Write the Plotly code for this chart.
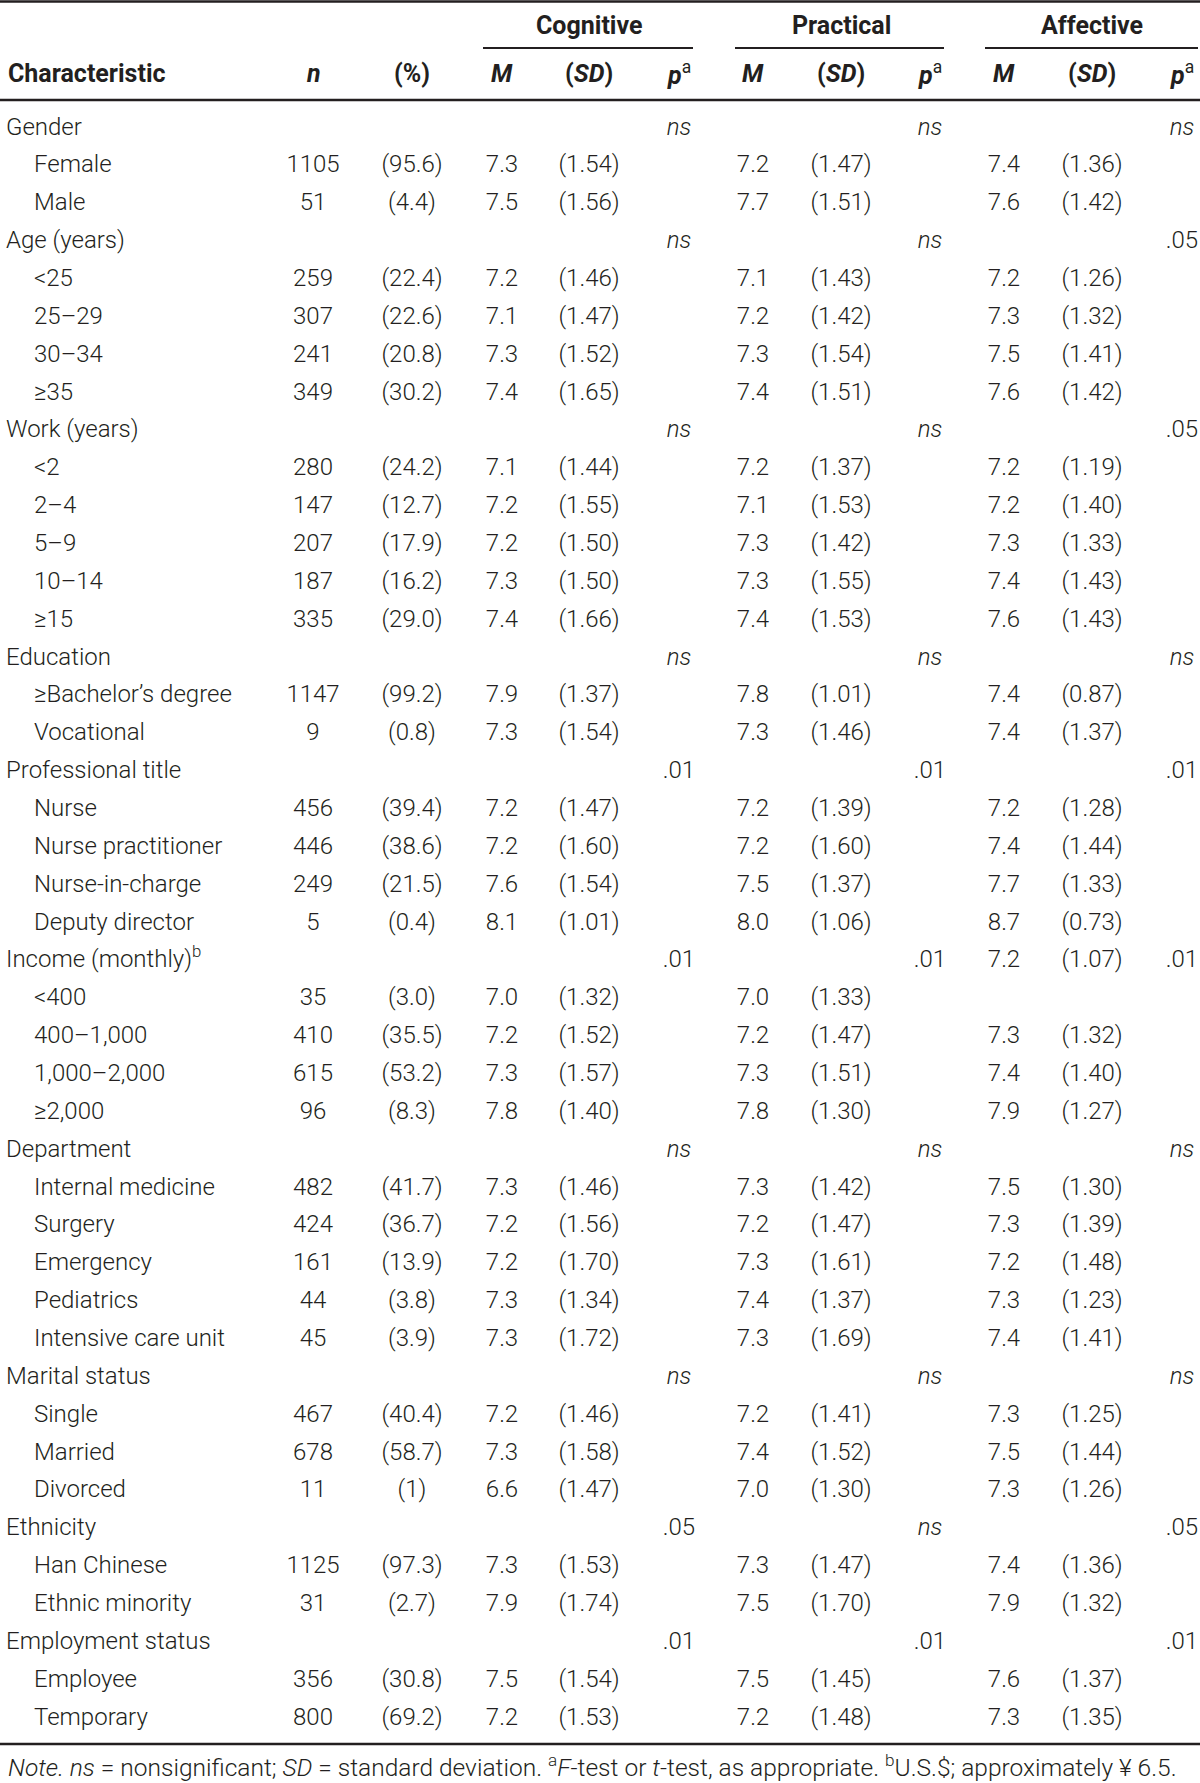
import plotly.graph_objects as go

# ---------------- data ----------------
labels = [
    "Gender", "Female", "Male",
    "Age (years)", "<25", "25–29", "30–34", "≥35",
    "Work (years)", "<2", "2–4", "5–9", "10–14", "≥15",
    "Education", "≥Bachelor’s degree", "Vocational",
    "Professional title", "Nurse", "Nurse practitioner", "Nurse-in-charge", "Deputy director",
    "Income (monthly)<sup>b</sup>", "<400", "400–1,000", "1,000–2,000", "≥2,000",
    "Department", "Internal medicine", "Surgery", "Emergency", "Pediatrics", "Intensive care unit",
    "Marital status", "Single", "Married", "Divorced",
    "Ethnicity", "Han Chinese", "Ethnic minority",
    "Employment status", "Employee", "Temporary",
]
is_group = [
    1, 0, 0,
    1, 0, 0, 0, 0,
    1, 0, 0, 0, 0, 0,
    1, 0, 0,
    1, 0, 0, 0, 0,
    1, 0, 0, 0, 0,
    1, 0, 0, 0, 0, 0,
    1, 0, 0, 0,
    1, 0, 0,
    1, 0, 0,
]
n_vals = ["", "1105", "51",
          "", "259", "307", "241", "349",
          "", "280", "147", "207", "187", "335",
          "", "1147", "9",
          "", "456", "446", "249", "5",
          "", "35", "410", "615", "96",
          "", "482", "424", "161", "44", "45",
          "", "467", "678", "11",
          "", "1125", "31",
          "", "356", "800"]
pct_vals = ["", "(95.6)", "(4.4)",
            "", "(22.4)", "(22.6)", "(20.8)", "(30.2)",
            "", "(24.2)", "(12.7)", "(17.9)", "(16.2)", "(29.0)",
            "", "(99.2)", "(0.8)",
            "", "(39.4)", "(38.6)", "(21.5)", "(0.4)",
            "", "(3.0)", "(35.5)", "(53.2)", "(8.3)",
            "", "(41.7)", "(36.7)", "(13.9)", "(3.8)", "(3.9)",
            "", "(40.4)", "(58.7)", "(1)",
            "", "(97.3)", "(2.7)",
            "", "(30.8)", "(69.2)"]

cog_m = ["", "7.3", "7.5",
         "", "7.2", "7.1", "7.3", "7.4",
         "", "7.1", "7.2", "7.2", "7.3", "7.4",
         "", "7.9", "7.3",
         "", "7.2", "7.2", "7.6", "8.1",
         "", "7.0", "7.2", "7.3", "7.8",
         "", "7.3", "7.2", "7.2", "7.3", "7.3",
         "", "7.2", "7.3", "6.6",
         "", "7.3", "7.9",
         "", "7.5", "7.2"]
cog_sd = ["", "(1.54)", "(1.56)",
          "", "(1.46)", "(1.47)", "(1.52)", "(1.65)",
          "", "(1.44)", "(1.55)", "(1.50)", "(1.50)", "(1.66)",
          "", "(1.37)", "(1.54)",
          "", "(1.47)", "(1.60)", "(1.54)", "(1.01)",
          "", "(1.32)", "(1.52)", "(1.57)", "(1.40)",
          "", "(1.46)", "(1.56)", "(1.70)", "(1.34)", "(1.72)",
          "", "(1.46)", "(1.58)", "(1.47)",
          "", "(1.53)", "(1.74)",
          "", "(1.54)", "(1.53)"]
cog_p = ["ns", "", "",
         "ns", "", "", "", "",
         "ns", "", "", "", "", "",
         "ns", "", "",
         ".01", "", "", "", "",
         ".01", "", "", "", "",
         "ns", "", "", "", "", "",
         "ns", "", "", "",
         ".05", "", "",
         ".01", "", ""]

pra_m = ["", "7.2", "7.7",
         "", "7.1", "7.2", "7.3", "7.4",
         "", "7.2", "7.1", "7.3", "7.3", "7.4",
         "", "7.8", "7.3",
         "", "7.2", "7.2", "7.5", "8.0",
         "", "7.0", "7.2", "7.3", "7.8",
         "", "7.3", "7.2", "7.3", "7.4", "7.3",
         "", "7.2", "7.4", "7.0",
         "", "7.3", "7.5",
         "", "7.5", "7.2"]
pra_sd = ["", "(1.47)", "(1.51)",
          "", "(1.43)", "(1.42)", "(1.54)", "(1.51)",
          "", "(1.37)", "(1.53)", "(1.42)", "(1.55)", "(1.53)",
          "", "(1.01)", "(1.46)",
          "", "(1.39)", "(1.60)", "(1.37)", "(1.06)",
          "", "(1.33)", "(1.47)", "(1.51)", "(1.30)",
          "", "(1.42)", "(1.47)", "(1.61)", "(1.37)", "(1.69)",
          "", "(1.41)", "(1.52)", "(1.30)",
          "", "(1.47)", "(1.70)",
          "", "(1.45)", "(1.48)"]
pra_p = ["ns", "", "",
         "ns", "", "", "", "",
         "ns", "", "", "", "", "",
         "ns", "", "",
         ".01", "", "", "", "",
         ".01", "", "", "", "",
         "ns", "", "", "", "", "",
         "ns", "", "", "",
         "ns", "", "",
         ".01", "", ""]

aff_m = ["", "7.4", "7.6",
         "", "7.2", "7.3", "7.5", "7.6",
         "", "7.2", "7.2", "7.3", "7.4", "7.6",
         "", "7.4", "7.4",
         "", "7.2", "7.4", "7.7", "8.7",
         "7.2", "", "7.3", "7.4", "7.9",
         "", "7.5", "7.3", "7.2", "7.3", "7.4",
         "", "7.3", "7.5", "7.3",
         "", "7.4", "7.9",
         "", "7.6", "7.3"]
aff_sd = ["", "(1.36)", "(1.42)",
          "", "(1.26)", "(1.32)", "(1.41)", "(1.42)",
          "", "(1.19)", "(1.40)", "(1.33)", "(1.43)", "(1.43)",
          "", "(0.87)", "(1.37)",
          "", "(1.28)", "(1.44)", "(1.33)", "(0.73)",
          "(1.07)", "", "(1.32)", "(1.40)", "(1.27)",
          "", "(1.30)", "(1.39)", "(1.48)", "(1.23)", "(1.41)",
          "", "(1.25)", "(1.44)", "(1.26)",
          "", "(1.36)", "(1.32)",
          "", "(1.37)", "(1.35)"]
aff_p = ["ns", "", "",
         ".05", "", "", "", "",
         ".05", "", "", "", "", "",
         "ns", "", "",
         ".01", "", "", "", "",
         ".01", "", "", "", "",
         "ns", "", "", "", "", "",
         "ns", "", "", "",
         ".05", "", "",
         ".01", "", ""]

groups = ["Cognitive", "Practical", "Affective"]
sub_headers = ["<b><i>M</i></b>", "<b>(<i>SD</i>)</b>", "<b><i>p</i></b><sup>a</sup>"]
note_text = ("<i>Note. ns</i> = nonsignificant; <i>SD</i> = standard deviation. "
             "<sup>a</sup><i>F</i>-test or <i>t</i>-test, as appropriate. "
             "<sup>b</sup>U.S.$; approximately ¥ 6.5.")

# ---------------- layout constants ----------------
W, H = 1200, 1783
FONT = "Roboto, Liberation Sans, sans-serif"
FS = 24
HFS = 25
COLOR = "#231f20"
ROW0, DY = 128.5, 37.86
INDENT = 28
X_LABEL = 6
X_N, X_PCT = 313, 412
GROUP_COLS = [(502, 589, 679), (753, 841, 930), (1004, 1092, 1182)]
GROUP_LINES = [(483, 693), (735, 944), (985, 1198)]
Y_GROUP, Y_HEAD = 25, 73

ys_all = [ROW0 + i * DY for i in range(len(labels))]

def fmt_p(v):
    return "<i>ns</i>" if v == "ns" else v

fig = go.Figure()

def add_col(x, texts, pos="middle center"):
    pts = [(y, t) for y, t in zip(ys_all, texts) if t]
    fig.add_trace(go.Scatter(
        x=[x] * len(pts), y=[p[0] for p in pts], mode="text", text=[p[1] for p in pts],
        textposition=pos, textfont=dict(family=FONT, size=FS, color=COLOR, weight=300),
        hoverinfo="skip", showlegend=False, cliponaxis=False))

grp_lab = [l if g else "" for l, g in zip(labels, is_group)]
sub_lab = [l if not g else "" for l, g in zip(labels, is_group)]
add_col(X_LABEL, grp_lab, "middle right")
add_col(X_LABEL + INDENT, sub_lab, "middle right")
add_col(X_N, n_vals)
add_col(X_PCT, pct_vals)
for (xm, xs, xp), m, sd, p in zip(GROUP_COLS,
                                  [cog_m, pra_m, aff_m],
                                  [cog_sd, pra_sd, aff_sd],
                                  [cog_p, pra_p, aff_p]):
    add_col(xm, m)
    add_col(xs, sd)
    add_col(xp, [fmt_p(v) for v in p])

# headers
hdr_font = dict(family=FONT, size=HFS, color=COLOR)
fig.add_annotation(x=X_LABEL, y=Y_HEAD, text="<b>Characteristic</b>", xanchor="left",
                   yanchor="middle", showarrow=False, font=hdr_font)
fig.add_annotation(x=X_N, y=Y_HEAD, text="<b><i>n</i></b>", showarrow=False, font=hdr_font)
fig.add_annotation(x=X_PCT, y=Y_HEAD, text="<b>(%)</b>", showarrow=False, font=hdr_font)
for g, cols, (l0, l1) in zip(groups, GROUP_COLS, GROUP_LINES):
    fig.add_annotation(x=cols[1], y=Y_GROUP, text=f"<b>{g}</b>", showarrow=False, font=hdr_font)
    for xc, sh in zip(cols, sub_headers):
        fig.add_annotation(x=xc, y=Y_HEAD, text=sh, showarrow=False, font=hdr_font)
    fig.add_shape(type="line", x0=l0, x1=l1, y0=48, y1=48,
                  line=dict(color=COLOR, width=2))

# rules
for yl in (1.5, 100, 1744):
    fig.add_shape(type="line", x0=0, x1=W, y0=yl, y1=yl, line=dict(color=COLOR, width=2.5))

fig.add_annotation(x=X_LABEL, y=1766, text=note_text, xanchor="left", yanchor="middle",
                   showarrow=False, font=dict(family=FONT, size=24.5, color=COLOR, weight=300))

fig.update_layout(
    width=W, height=H, margin=dict(l=0, r=0, t=0, b=0),
    paper_bgcolor="white", plot_bgcolor="white",
    xaxis=dict(range=[0, W], visible=False, fixedrange=True),
    yaxis=dict(range=[H, 0], visible=False, fixedrange=True),
)
fig.write_html("out.html", config={"displayModeBar": False},
               post_script="document.body.style.margin='0';")
